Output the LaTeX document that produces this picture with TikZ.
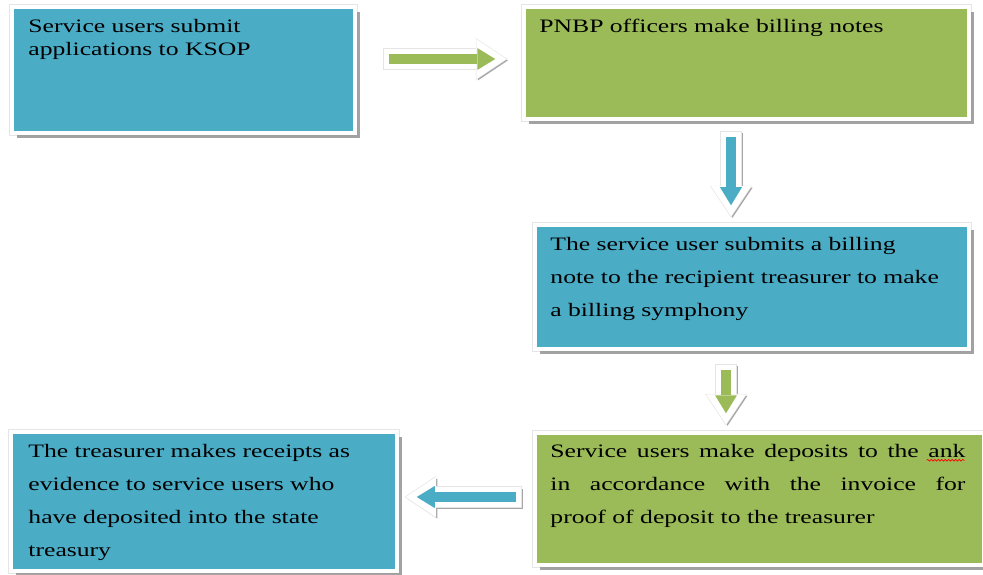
\documentclass[tikz,border=0pt]{standalone}
\usepackage{fontspec}
\setmainfont{Liberation Serif}[FakeStretch=1.35]
\usepackage{tikz}
\usetikzlibrary{
    positioning,
    arrows.meta,
    shadows,
    calc,
    decorations.pathmorphing
}
\definecolor{stepblue}{HTML}{4BACC6}
\definecolor{stepgreen}{HTML}{9BBB59}
\tikzset{
    procbox/.style={
        rectangle, draw=white, line width=3.5pt, inner sep=0pt,
        preaction={draw=black!10, line width=5.5pt},
        drop shadow={shadow xshift=5pt, shadow yshift=-5pt, fill=black!40, opacity=.9}
    },
    bluebox/.style={
        procbox, fill=stepblue
    },
    greenbox/.style={
        procbox, fill=stepgreen
    },
    steptext/.style={
        inner sep=0pt, align=left, text=black,
        font=\fontsize{19}{33}\selectfont
    },
    flowarrow/.style={
        draw=#1, line width=10pt,
        -{Triangle[width=22pt,length=18pt,line width=0pt]},
        preaction={draw=black!35, line width=20pt, shorten <=-5pt, shorten >=-11pt,
            -{Triangle[width=40pt,length=30pt,line width=0pt]},
            transform canvas={xshift=1.5pt,yshift=-1.5pt}},
        preaction={draw=black!10, line width=21.5pt, shorten <=-5.8pt, shorten >=-12.2pt,
            -{Triangle[width=42pt,length=31.5pt,line width=0pt]}},
        preaction={draw=white, line width=20pt, shorten <=-5pt, shorten >=-11pt,
            -{Triangle[width=40pt,length=30pt,line width=0pt]}}
    },
    spellwave/.style={
        draw=red, line width=0.6pt,
        decorate, decoration={snake, amplitude=0.9pt, segment length=3.5pt}
    }
}
\begin{document}
\begin{tikzpicture}[x=1pt, y=-1pt]
    \useasboundingbox (0,0) rectangle (983,575);

    % process boxes
    \node[bluebox, minimum width=343pt, minimum height=126pt] (apply) at (183.5,70) {};
    \node[greenbox, minimum width=445pt, minimum height=112pt] (billnote) at (746.5,63) {};
    \node[bluebox, minimum width=434pt, minimum height=124pt] (submit) at (752,287) {};
    \node[greenbox, minimum width=449pt, minimum height=132pt] (deposit) at (759.5,499) {};
    \node[bluebox, minimum width=386pt, minimum height=139pt] (receipt) at (204,501.5) {};

    % texts
    \node[steptext, text width=330pt, font=\fontsize{19}{23}\selectfont,
        below right=14pt and 18pt of apply.north west] (apply_t)
        {Service users submit\\applications to KSOP};
    \node[steptext, text width=420pt, below right=14pt and 17pt of billnote.north west] (billnote_t)
        {PNBP officers make billing notes};
    \node[steptext, text width=420pt, below right=14pt and 17pt of submit.north west] (submit_t)
        {The service user submits a billing\\note to the recipient treasurer to make\\a billing symphony};
    \node[steptext, text width=415pt, align=justify, below right=13pt and 17pt of deposit.north west] (deposit_t)
        {Service users make deposits to the ank\linebreak
         in accordance with the invoice for\linebreak proof of deposit to the treasurer};
    \node[steptext, text width=370pt, below right=14pt and 19pt of receipt.north west] (receipt_t)
        {The treasurer makes receipts as\\evidence to service users who\\have deposited into the state\\treasury};
    \coordinate[below left=16pt and 39pt of deposit_t.north east] (wave_s);
    \coordinate[below left=16pt and 1pt of deposit_t.north east] (wave_e);
    \draw[spellwave] (wave_s) -- (wave_e);

    % block arrows
    \draw[flowarrow=stepgreen] ([xshift=32pt,yshift=11pt]apply.east) -- ([xshift=-27pt,yshift=4pt]billnote.west);
    \draw[flowarrow=stepblue] ([xshift=-15.5pt,yshift=-16pt]billnote.south) -- ([xshift=-21pt,yshift=18pt]submit.north);
    \draw[flowarrow=stepgreen] ([xshift=-26pt,yshift=-19pt]submit.south) -- ([xshift=-33.5pt,yshift=18pt]deposit.north);
    \draw[flowarrow=stepblue] ([xshift=-17pt,yshift=2pt]deposit.west) -- ([xshift=18pt,yshift=4.5pt]receipt.east);
\end{tikzpicture}
\end{document}
